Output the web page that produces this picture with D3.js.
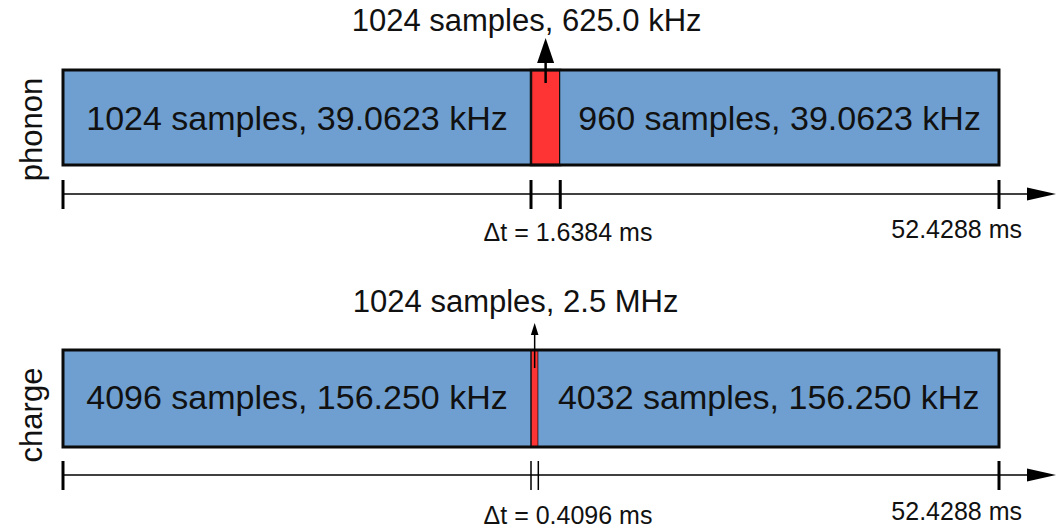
<!DOCTYPE html>
<html><head><meta charset="utf-8">
<script src="https://cdn.jsdelivr.net/npm/d3@7"></script>
<style>html,body{margin:0;padding:0;background:#fff;}svg{display:block;}</style>
</head><body>
<svg id="c" width="1064" height="531"></svg>
<script>
const channels = ["phonon", "charge"];
const phononSamples = [1024, 1024, 960];
const phononRatesKHz = [39.0625, 625.0, 39.0625];
const phononLabels = ["1024 samples, 39.0623 kHz", "1024 samples, 625.0 kHz", "960 samples, 39.0623 kHz"];
const chargeSamples = [4096, 1024, 4032];
const chargeRatesKHz = [156.25, 2500, 156.25];
const chargeLabels = ["4096 samples, 156.250 kHz", "1024 samples, 2.5 MHz", "4032 samples, 156.250 kHz"];
const dtLabels = ["\u0394t = 1.6384 ms", "\u0394t = 0.4096 ms"];
const totalLabels = ["52.4288 ms", "52.4288 ms"];
const totalMs = 52.4288;

const svg = d3.select("#c");
const x = d3.scaleLinear().domain([0, totalMs]).range([63, 999]);
const font = "'Liberation Sans', Arial, Helvetica, sans-serif";
const blue = "#6e9fd0", red = "#fe3333";

const rows = [
  {samples: phononSamples, rates: phononRatesKHz, labels: phononLabels, top: 70, h: 95, axisY: 194,
   arrowW: 2.5, headW: 8.5, headH: 25, headTip: 38, lineEnd: 83, redStroke: 2.5, midTick: 3, topLabelY: 31,
   barTextY: 130, dtY: 241, totY: 238, sideY: 129.5},
  {samples: chargeSamples, rates: chargeRatesKHz, labels: chargeLabels, top: 350, h: 97, axisY: 475,
   arrowW: 1.5, headW: 3.8, headH: 12, headTip: 323, lineEnd: 368, redStroke: 1.5, midTick: 1.5, topLabelY: 312,
   barTextY: 409, dtY: 524, totY: 520, sideY: 415}
];

rows.forEach((r, i) => {
  const g = svg.append("g");
  const durs = r.samples.map((s, j) => s / r.rates[j]);
  let acc = 0;
  const segs = durs.map((d, j) => { const s = {start: acc, end: acc + d, j}; acc += d; return s; });

  // segments
  g.selectAll("rect.seg").data(segs).enter().append("rect")
    .attr("x", d => x(d.start)).attr("y", r.top)
    .attr("width", d => x(d.end) - x(d.start)).attr("height", r.h)
    .attr("fill", d => d.j === 1 ? red : blue)
    .attr("stroke", d => d.j === 1 ? "#111" : "none")
    .attr("stroke-width", r.redStroke);
  // outline
  g.append("rect").attr("x", x(0)).attr("y", r.top).attr("width", x(totalMs) - x(0)).attr("height", r.h)
    .attr("fill", "none").attr("stroke", "#0a0a0a").attr("stroke-width", 3);

  // bar texts
  [0, 2].forEach(j => {
    g.append("text").attr("x", (x(segs[j].start) + x(segs[j].end)) / 2).attr("y", r.barTextY)
      .attr("text-anchor", "middle").attr("font-family", font).attr("font-size", 34).attr("fill", "#111")
      .text(r.labels[j]);
  });

  // up arrow from fast segment
  const cx = (x(segs[1].start) + x(segs[1].end)) / 2;
  g.append("line").attr("x1", cx).attr("x2", cx).attr("y1", r.lineEnd).attr("y2", r.headTip + r.headH - 2)
    .attr("stroke", "#000").attr("stroke-width", r.arrowW);
  g.append("path").attr("d", `M${cx},${r.headTip} L${cx + r.headW},${r.headTip + r.headH} L${cx - r.headW},${r.headTip + r.headH} Z`)
    .attr("fill", "#000");
  g.append("text").attr("x", cx - 19).attr("y", r.topLabelY).attr("text-anchor", "middle")
    .attr("font-family", font).attr("font-size", 31).attr("fill", "#111").text(r.labels[1]);

  // timeline axis
  g.append("line").attr("x1", x(0)).attr("x2", 1032).attr("y1", r.axisY).attr("y2", r.axisY)
    .attr("stroke", "#000").attr("stroke-width", 1.6);
  g.append("path").attr("d", `M1056,${r.axisY} L1027,${r.axisY - 6.5} L1027,${r.axisY + 6.5} Z`).attr("fill", "#000");
  const ticks = [0, segs[1].start, segs[1].end, totalMs];
  g.selectAll("line.tick").data(ticks).enter().append("line")
    .attr("x1", d => x(d)).attr("x2", d => x(d))
    .attr("y1", (d, k) => r.axisY - 14).attr("y2", (d, k) => r.axisY + 15)
    .attr("stroke", "#000")
    .attr("stroke-width", (d, k) => (k === 1 || k === 2) ? r.midTick : 3);

  g.append("text").attr("x", 568).attr("y", r.dtY).attr("text-anchor", "middle")
    .attr("font-family", font).attr("font-size", 25).attr("fill", "#111").text(dtLabels[i]);
  g.append("text").attr("x", x(totalMs) + 23).attr("y", r.totY).attr("text-anchor", "end")
    .attr("font-family", font).attr("font-size", 25).attr("fill", "#111").text(totalLabels[i]);

  // side label
  g.append("text").attr("transform", `translate(42,${r.sideY}) rotate(-90)`).attr("text-anchor", "middle")
    .attr("font-family", font).attr("font-size", 31).attr("fill", "#111").text(channels[i]);
});
</script>
</body></html>
